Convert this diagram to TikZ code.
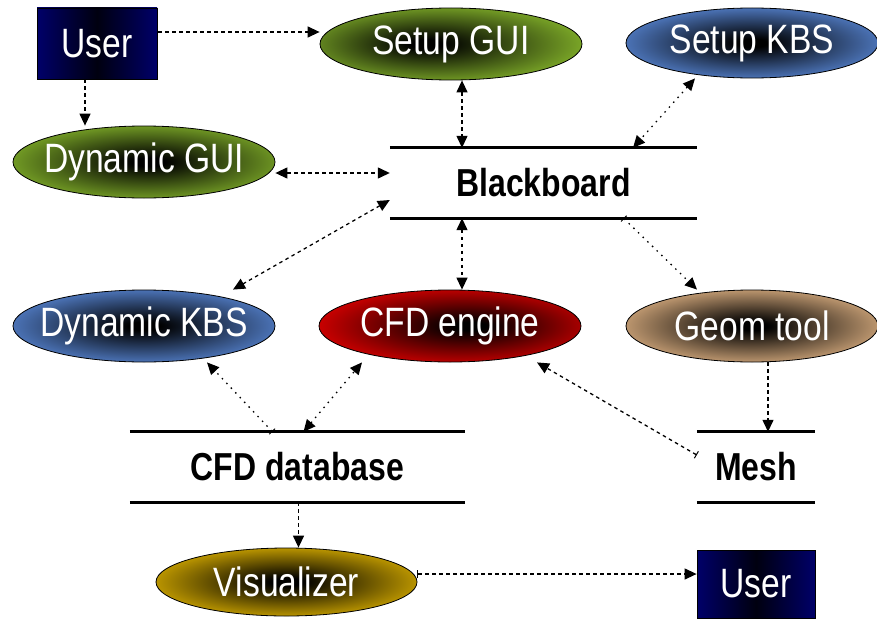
\documentclass[tikz,border=0pt]{standalone}
\usepackage{fontspec}
\setmainfont[FakeStretch=0.82]{Liberation Sans}
\usetikzlibrary{shapes.geometric,arrows.meta}

% rim colours of the shaded ovals
\definecolor{leaf}{RGB}{140,190,45}
\definecolor{sky}{RGB}{95,145,230}
\definecolor{ember}{RGB}{235,0,0}
\definecolor{sand}{RGB}{238,190,140}
\definecolor{amber}{RGB}{235,188,0}
\definecolor{navyedge}{RGB}{0,0,105}

% dark core fading out to the rim colour
\pgfdeclareradialshading{leafglow}{\pgfpoint{-5bp}{0bp}}{color(0bp)=(black);color(3bp)=(black);color(31bp)=(leaf);color(50bp)=(leaf)}
\pgfdeclareradialshading{leafglowc}{\pgfpoint{1bp}{0bp}}{color(0bp)=(black);color(3bp)=(black);color(31bp)=(leaf);color(50bp)=(leaf)}
\pgfdeclareradialshading{skyglow}{\pgfpoint{0bp}{0bp}}{color(0bp)=(black);color(3bp)=(black);color(31bp)=(sky);color(50bp)=(sky)}
\pgfdeclareradialshading{emberglow}{\pgfpoint{4bp}{0bp}}{color(0bp)=(black);color(3bp)=(black);color(31bp)=(ember);color(50bp)=(ember)}
\pgfdeclareradialshading{sandglow}{\pgfpoint{0bp}{0bp}}{color(0bp)=(black);color(3bp)=(black);color(31bp)=(sand);color(50bp)=(sand)}
\pgfdeclareradialshading{amberglow}{\pgfpoint{0bp}{0bp}}{color(0bp)=(black);color(3bp)=(black);color(31bp)=(amber);color(50bp)=(amber)}

% label that does not widen its oval
\newcommand\ovaltext[1]{\makebox[0pt]{#1}}

\tikzset{
  oval/.style={ellipse, draw=black, line width=0.8pt, shade, text=white,
    minimum width=262pt, minimum height=72pt, inner sep=0pt,
    font=\fontsize{41}{41}\selectfont},
  userbox/.style={rectangle, draw=black, line width=0.8pt, text=white,
    left color=navyedge, right color=navyedge, middle color=black!85!navyedge,
    inner sep=0pt, font=\fontsize{41}{41}\selectfont},
  store/.style={rectangle, inner sep=0pt, minimum height=70pt,
    font=\fontsize{39}{39}\selectfont\bfseries},
  storeline/.style={line width=3.2pt},
  tipT/.tip={Triangle[length=12pt,width=11pt]},
  link/.style={line width=1.3pt, dash pattern=on 3.5pt off 3.5pt},
  dotlink/.style={line width=1.3pt, dash pattern=on 1.5pt off 5pt},
  one/.style={-tipT},
  ticked/.style={{Bar[width=8pt,line width=1pt]}-tipT},
  two/.style={tipT-tipT}
}

\begin{document}
\begin{tikzpicture}[x=1pt,y=-1pt]
\useasboundingbox (0,0) rectangle (877,618);

% agents and tools
\node[userbox, minimum width=120pt, minimum height=71pt] (user) at (97,43.5) {User};
\node[oval, shading=leafglow] (sgui) at (451,44) {\ovaltext{Setup GUI}};
\node[oval, shading=skyglow, minimum width=252pt, minimum height=70pt] (skbs) at (752,43) {\ovaltext{Setup KBS}};
\node[oval, shading=leafglowc] (dgui) at (144,162) {\ovaltext{Dynamic GUI}};
\node[oval, shading=skyglow] (dkbs) at (144,326) {\ovaltext{Dynamic KBS}};
\node[oval, shading=emberglow] (cfd) at (450,326) {\ovaltext{CFD engine}};
\node[oval, shading=sandglow, minimum width=252pt] (geom) at (752,326) {\ovaltext{Geom tool}};
\node[oval, shading=amberglow, minimum width=261pt, minimum height=68pt] (vis) at (286.5,582) {\ovaltext{Visualizer}};
\node[userbox, minimum width=118pt, minimum height=68pt] (user2) at (756,584) {User};

% data stores
\node[store, minimum width=307pt] (bb) at (543.5,183) {Blackboard};
\node[store, minimum width=335pt] (db) at (297.5,467) {CFD database};
\node[store, minimum width=118pt] (mesh) at (756,467) {Mesh};
\foreach \s in {bb,db,mesh}{
  \draw[storeline] (\s.north west) -- (\s.north east);
  \draw[storeline] (\s.south west) -- (\s.south east);
}

% connectors
\draw[link, ticked] ([yshift=11.5pt]user.east) -- ([yshift=12pt]sgui.west);
\draw[link, one] ([xshift=-12pt]user.south) -- ([xshift=-59pt]dgui.north);
\draw[link, two] ([yshift=-11pt]dgui.east) -- ([yshift=10pt]bb.west);
\draw[link, two] ([xshift=11pt]sgui.south) -- ([xshift=-81.5pt]bb.north);
\draw[dotlink, two] ([xshift=-57pt]skbs.south) -- ([xshift=89.5pt]bb.north);
\draw[link, two] ([yshift=-17pt]bb.west) -- ([xshift=89pt]dkbs.north);
\draw[link, two] ([xshift=-81.5pt]bb.south) -- ([xshift=12pt]cfd.north);
\draw[dotlink, ticked] ([xshift=80pt]bb.south) -- ([xshift=-55pt]geom.north);
\draw[link, one] ([xshift=16pt]geom.south) -- ([xshift=12pt]mesh.north);
\draw[link, ticked] ([yshift=12pt]mesh.west) -- ([xshift=87pt]cfd.south);
\draw[dotlink, two] ([xshift=6pt]db.north) -- ([xshift=-88pt]cfd.south);
\draw[dotlink, ticked] ([xshift=-25pt]db.north) -- ([xshift=63pt]dkbs.south);
\draw[link, one] ([xshift=1pt]db.south) -- ([xshift=12pt]vis.north);
\draw[link, ticked] ([yshift=8pt]vis.east) -- ([yshift=10pt]user2.west);
\end{tikzpicture}
\end{document}
